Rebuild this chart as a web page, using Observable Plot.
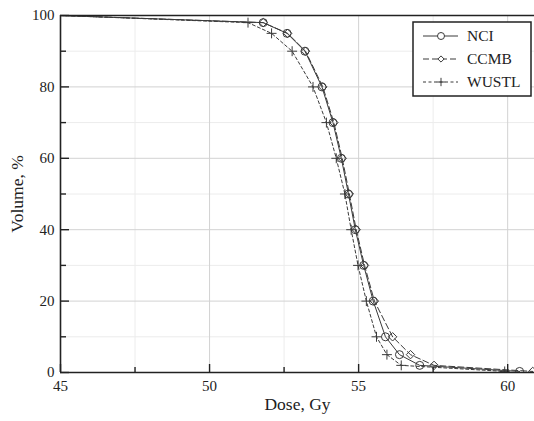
<!DOCTYPE html>
<html><head><meta charset="utf-8">
<script src="https://cdn.jsdelivr.net/npm/d3@7"></script>
<script src="https://cdn.jsdelivr.net/npm/@observablehq/plot@0.6"></script>
<style>body{margin:0;background:#fff}#chart{width:534px;height:421px}</style>
</head><body><div id="chart"></div>
<script>
const volumeLevels = [100, 98, 95, 90, 80, 70, 60, 50, 40, 30, 20, 10, 5, 2, 0.3];
const nciDose   = [45, 51.8, 52.6, 53.2, 53.77, 54.14, 54.42, 54.66, 54.89, 55.17, 55.49, 55.9, 56.37, 57.05, 60.4];
const ccmbDose  = [45, 51.8, 52.62, 53.22, 53.8, 54.17, 54.45, 54.69, 54.92, 55.2, 55.53, 56.14, 56.74, 57.53, 60.84];
const wustlDose = [45, 51.29, 52.08, 52.77, 53.47, 53.92, 54.25, 54.54, 54.75, 54.98, 55.26, 55.6, 55.95, 56.43, 59.9];
const seriesNames = ["NCI", "CCMB", "WUSTL"];
const xTicks = [45, 50, 55, 60];
const xMinor = [47.5, 52.5, 57.5];
const yTicks = [0, 20, 40, 60, 80, 100];
const yMinor = [10, 30, 50, 70, 90];

const doses = {NCI: nciDose, CCMB: ccmbDose, WUSTL: wustlDose};
const rows = seriesNames.flatMap(s => doses[s].map((d, i) => ({series: s, dose: d, volume: volumeLevels[i]})));
const styles = {
  NCI: {dash: null, symbol: "circle", r: 4},
  CCMB: {dash: "6,3", symbol: "diamond2", r: 3.8},
  WUSTL: {dash: "3,2.5", symbol: "plus", r: 3.3}
};
const ink = "#3a3a3a";
const font = "'Liberation Serif','Times New Roman',serif";

const marks = [
  Plot.gridY(yMinor, {stroke: "#ececec", strokeOpacity: 1}),
  Plot.gridX(xMinor, {stroke: "#ececec", strokeOpacity: 1}),
  Plot.gridY(yTicks, {stroke: "#d2d2d2", strokeOpacity: 1}),
  Plot.gridX(xTicks, {stroke: "#d2d2d2", strokeOpacity: 1}),
];
for (const s of seriesNames) {
  const data = rows.filter(d => d.series === s);
  marks.push(Plot.line(data, {x: "dose", y: "volume", stroke: ink, strokeWidth: 1, strokeDasharray: styles[s].dash, clip: true}));
  marks.push(Plot.dot(data.filter(d => d.dose > 45), {x: "dose", y: "volume", symbol: () => styles[s].symbol, r: styles[s].r, stroke: ink, fill: "none", strokeWidth: 1, clip: true}));
}
marks.push(
  Plot.ruleY([100], {stroke: "#222", strokeWidth: 1.6}),
  Plot.ruleY([0], {stroke: "#222", strokeWidth: 1.6}),
  Plot.ruleX([45], {stroke: "#222", strokeWidth: 1.6}),
  Plot.axisX(xTicks, {tickSize: -8, text: null, label: null, stroke: "#222", strokeWidth: 1.4}),
  Plot.axisX(xMinor, {tickSize: -5, text: null, label: null, stroke: "#222", strokeWidth: 1.4}),
  Plot.axisY(yTicks, {tickSize: -9, text: null, label: null, stroke: "#222", strokeWidth: 1.4}),
  Plot.axisY(yMinor, {tickSize: -6, text: null, label: null, stroke: "#222", strokeWidth: 1.4}),
  Plot.axisX(xTicks, {tickSize: 0, tickPadding: 8, label: null, fill: "#222"}),
  Plot.axisY(yTicks, {tickSize: 0, tickPadding: 6, label: null, fill: "#222"}),
  Plot.axisX({ticks: [], label: "Dose, Gy", labelAnchor: "center", labelArrow: "none", labelOffset: 37, fontSize: 17.5, fill: "#222"}),
  Plot.axisY({ticks: [], label: "Volume, %", labelAnchor: "center", labelArrow: "none", labelOffset: 50, fontSize: 17.5, fill: "#222"})
);

const plot = Plot.plot({
  width: 534, height: 421,
  marginLeft: 60, marginRight: 0, marginTop: 15, marginBottom: 49,
  x: {domain: [45, 60.9]},
  y: {domain: [0, 100]},
  style: {fontFamily: font, fontSize: "15px", background: "white", color: "#222"},
  marks
});
document.getElementById("chart").appendChild(plot);

// legend
const svg = d3.select(plot);
const lg = svg.append("g").attr("font-family", font).attr("font-size", 15.5).attr("text-anchor", "start");
lg.append("rect").attr("x", 413).attr("y", 22).attr("width", 118).attr("height", 74)
  .attr("fill", "white").attr("stroke", "#222").attr("stroke-width", 1.5);
const sym = {circle: d3.symbolCircle, diamond2: d3.symbolDiamond2, plus: d3.symbolPlus};
seriesNames.forEach((s, i) => {
  const y = 36 + i * 23;
  lg.append("line").attr("x1", 423).attr("x2", 458).attr("y1", y).attr("y2", y)
    .attr("stroke", ink).attr("stroke-dasharray", styles[s].dash);
  const r = s === "NCI" ? 3.5 : 2.8;
  lg.append("path").attr("transform", `translate(441,${y})`)
    .attr("d", d3.symbol(sym[styles[s].symbol], Math.PI * r * r)())
    .attr("fill", s === "WUSTL" ? "none" : "white").attr("stroke", ink);
  lg.append("text").attr("x", 467).attr("y", y).attr("dy", "0.35em").attr("fill", "#222").text(s);
});
</script>
</body></html>
